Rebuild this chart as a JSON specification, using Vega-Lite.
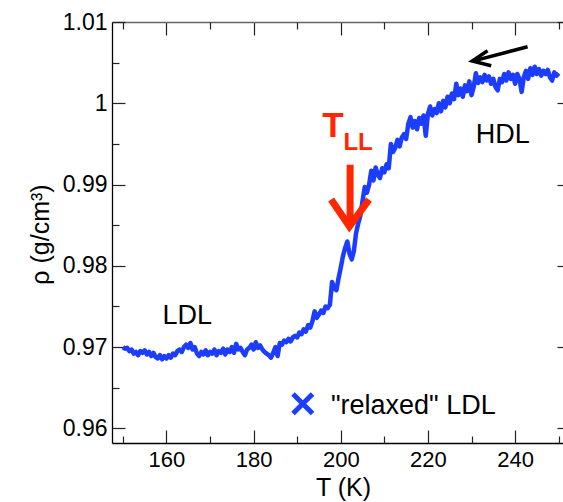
{
  "$schema": "https://vega.github.io/schema/vega-lite/v6.json",
  "width": 458,
  "height": 421,
  "autosize": "none",
  "padding": {"left": 112, "top": 22, "right": 0, "bottom": 59},
  "background": "white",
  "config": {"view": {"stroke": null}, "axis": {"grid": false, "labelFont": "Liberation Sans", "titleFont": "Liberation Sans", "labelColor": "#000", "titleColor": "#000", "titleFontWeight": "normal"}},
  "resolve": {"axis": {"x": "independent", "y": "independent"}},
  "layer": [
    {
      "data": {"values": [
        {"T":150.0,"rho":0.9700},{"T":150.5,"rho":0.9698},{"T":151.0,"rho":0.9699},{"T":151.5,"rho":0.9695},{"T":152.0,"rho":0.9697},{"T":152.5,"rho":0.9692},{"T":153.0,"rho":0.9694},{"T":153.5,"rho":0.9690},{"T":154.0,"rho":0.9695},{"T":154.5,"rho":0.9693},
        {"T":155.0,"rho":0.9696},{"T":155.5,"rho":0.9691},{"T":156.0,"rho":0.9694},{"T":156.5,"rho":0.9689},{"T":157.0,"rho":0.9693},{"T":157.5,"rho":0.9688},{"T":158.0,"rho":0.9686},{"T":158.5,"rho":0.9690},{"T":159.0,"rho":0.9685},{"T":159.5,"rho":0.9689},
        {"T":160.0,"rho":0.9686},{"T":160.5,"rho":0.9690},{"T":161.0,"rho":0.9687},{"T":161.5,"rho":0.9692},{"T":162.0,"rho":0.9690},{"T":162.5,"rho":0.9695},{"T":163.0,"rho":0.9697},{"T":163.5,"rho":0.9694},{"T":164.0,"rho":0.9700},{"T":164.5,"rho":0.9703},
        {"T":165.0,"rho":0.9699},{"T":165.5,"rho":0.9705},{"T":166.0,"rho":0.9697},{"T":166.5,"rho":0.9700},{"T":167.0,"rho":0.9692},{"T":167.5,"rho":0.9689},{"T":168.0,"rho":0.9694},{"T":168.5,"rho":0.9691},{"T":169.0,"rho":0.9696},{"T":169.5,"rho":0.9690},
        {"T":170.0,"rho":0.9694},{"T":170.5,"rho":0.9692},{"T":171.0,"rho":0.9697},{"T":171.5,"rho":0.9690},{"T":172.0,"rho":0.9695},{"T":172.5,"rho":0.9693},{"T":173.0,"rho":0.9698},{"T":173.5,"rho":0.9691},{"T":174.0,"rho":0.9697},{"T":174.5,"rho":0.9694},
        {"T":175.0,"rho":0.9700},{"T":175.5,"rho":0.9693},{"T":176.0,"rho":0.9704},{"T":176.5,"rho":0.9697},{"T":177.0,"rho":0.9699},{"T":177.5,"rho":0.9694},{"T":178.0,"rho":0.9690},{"T":178.5,"rho":0.9697},{"T":179.0,"rho":0.9699},{"T":179.5,"rho":0.9703},
        {"T":180.0,"rho":0.9697},{"T":180.5,"rho":0.9706},{"T":181.0,"rho":0.9699},{"T":181.5,"rho":0.9702},{"T":182.0,"rho":0.9697},{"T":182.5,"rho":0.9694},{"T":183.0,"rho":0.9692},{"T":183.5,"rho":0.9690},{"T":184.0,"rho":0.9687},{"T":184.5,"rho":0.9693},
        {"T":185.0,"rho":0.9700},{"T":185.5,"rho":0.9689},{"T":186.0,"rho":0.9705},{"T":186.5,"rho":0.9703},{"T":187.0,"rho":0.9708},{"T":187.5,"rho":0.9706},{"T":188.0,"rho":0.9710},{"T":188.5,"rho":0.9707},{"T":189.0,"rho":0.9712},{"T":189.5,"rho":0.9714},
        {"T":190.0,"rho":0.9712},{"T":190.5,"rho":0.9718},{"T":191.0,"rho":0.9716},{"T":191.5,"rho":0.9722},{"T":192.0,"rho":0.9719},{"T":192.5,"rho":0.9727},{"T":193.0,"rho":0.9724},{"T":193.5,"rho":0.9732},{"T":194.0,"rho":0.9744},{"T":194.5,"rho":0.9736},
        {"T":195.0,"rho":0.9740},{"T":195.5,"rho":0.9745},{"T":196.0,"rho":0.9742},{"T":196.5,"rho":0.9750},{"T":197.0,"rho":0.9748},{"T":197.5,"rho":0.9752},{"T":198.0,"rho":0.9780},{"T":198.5,"rho":0.9772},{"T":199.0,"rho":0.9770},{"T":199.5,"rho":0.9785},
        {"T":200.0,"rho":0.9798},{"T":200.5,"rho":0.9812},{"T":201.0,"rho":0.9822},{"T":201.5,"rho":0.9830},{"T":202.0,"rho":0.9815},{"T":202.5,"rho":0.9808},{"T":203.0,"rho":0.9818},{"T":203.5,"rho":0.9840},{"T":204.0,"rho":0.9852},{"T":204.5,"rho":0.9862},
        {"T":205.0,"rho":0.9880},{"T":205.5,"rho":0.9897},{"T":206.0,"rho":0.9890},{"T":206.5,"rho":0.9900},{"T":207.0,"rho":0.9917},{"T":207.5,"rho":0.9905},{"T":208.0,"rho":0.9921},{"T":208.5,"rho":0.9912},{"T":209.0,"rho":0.9908},{"T":209.5,"rho":0.9920},
        {"T":210.0,"rho":0.9915},{"T":210.5,"rho":0.9925},{"T":211.0,"rho":0.9920},{"T":211.5,"rho":0.9950},{"T":212.0,"rho":0.9940},{"T":212.5,"rho":0.9945},{"T":213.0,"rho":0.9955},{"T":213.5,"rho":0.9947},{"T":214.0,"rho":0.9958},{"T":214.5,"rho":0.9962},
        {"T":215.0,"rho":0.9956},{"T":215.5,"rho":0.9975},{"T":216.0,"rho":0.9983},{"T":216.5,"rho":0.9970},{"T":217.0,"rho":0.9978},{"T":217.5,"rho":0.9968},{"T":218.0,"rho":0.9982},{"T":218.5,"rho":0.9975},{"T":219.0,"rho":0.9985},{"T":219.5,"rho":0.9960},
        {"T":220.0,"rho":0.9987},{"T":220.5,"rho":0.9996},{"T":221.0,"rho":0.9985},{"T":221.5,"rho":0.9993},{"T":222.0,"rho":0.9988},{"T":222.5,"rho":1.0000},{"T":223.0,"rho":0.9990},{"T":223.5,"rho":1.0003},{"T":224.0,"rho":0.9995},{"T":224.5,"rho":1.0008},
        {"T":225.0,"rho":1.0000},{"T":225.5,"rho":1.0012},{"T":226.0,"rho":1.0005},{"T":226.5,"rho":1.0024},{"T":227.0,"rho":1.0010},{"T":227.5,"rho":1.0018},{"T":228.0,"rho":1.0008},{"T":228.5,"rho":1.0022},{"T":229.0,"rho":1.0015},{"T":229.5,"rho":1.0027},
        {"T":230.0,"rho":1.0010},{"T":230.5,"rho":1.0020},{"T":231.0,"rho":1.0037},{"T":231.5,"rho":1.0025},{"T":232.0,"rho":1.0032},{"T":232.5,"rho":1.0026},{"T":233.0,"rho":1.0035},{"T":233.5,"rho":1.0028},{"T":234.0,"rho":1.0033},{"T":234.5,"rho":1.0024},
        {"T":235.0,"rho":1.0030},{"T":235.5,"rho":1.0020},{"T":236.0,"rho":1.0016},{"T":236.5,"rho":1.0030},{"T":237.0,"rho":1.0026},{"T":237.5,"rho":1.0036},{"T":238.0,"rho":1.0028},{"T":238.5,"rho":1.0038},{"T":239.0,"rho":1.0030},{"T":239.5,"rho":1.0035},
        {"T":240.0,"rho":1.0024},{"T":240.5,"rho":1.0036},{"T":241.0,"rho":1.0030},{"T":241.5,"rho":1.0014},{"T":242.0,"rho":1.0032},{"T":242.5,"rho":1.0040},{"T":243.0,"rho":1.0030},{"T":243.5,"rho":1.0043},{"T":244.0,"rho":1.0035},{"T":244.5,"rho":1.0045},
        {"T":245.0,"rho":1.0036},{"T":245.5,"rho":1.0042},{"T":246.0,"rho":1.0034},{"T":246.5,"rho":1.0040},{"T":247.0,"rho":1.0036},{"T":247.5,"rho":1.0041},{"T":248.0,"rho":1.0032},{"T":248.5,"rho":1.0028},{"T":249.0,"rho":1.0038},{"T":249.5,"rho":1.0034},
        {"T":250.0,"rho":1.0037}
      ]},
      "mark": {"type": "line", "color": "#1c3cff", "strokeWidth": 4.5, "strokeJoin": "round", "clip": true},
      "encoding": {
        "x": {"field": "T", "type": "quantitative", "scale": {"domain": [147.5, 252.6], "zero": false, "nice": false},
              "axis": {"orient": "bottom", "values": [160, 180, 200, 220, 240], "ticks": false, "labelFontSize": 22, "labelPadding": 6,
                       "domainColor": "#000", "domainWidth": 1.3, "title": "T (K)", "titleFontSize": 25, "titleX": 231, "titleY": 52, "titleBaseline": "alphabetic", "titleAlign": "center"}},
        "y": {"field": "rho", "type": "quantitative", "scale": {"domain": [0.9582, 1.01], "zero": false, "nice": false},
              "axis": {"orient": "left", "values": [0.96, 0.97, 0.98, 0.99, 1, 1.01], "labelExpr": "datum.value == 1 ? '1' : format(datum.value, '.2f')", "ticks": false, "labelFontSize": 23, "labelPadding": 5,
                       "domainColor": "#000", "domainWidth": 1.3, "title": "ρ (g/cm³)", "titleFontSize": 25, "titleAngle": -90, "titleX": -72, "titleY": 212, "titleBaseline": "middle", "titleAlign": "center"}}
      }
    },
    {
      "data": {"values": [{"T": 202.14, "rho": 0.99244, "k": 1}, {"T": 202.14, "rho": 0.98507, "k": 2}]},
      "mark": {"type": "line", "color": "#ff2600", "strokeWidth": 7, "strokeCap": "butt"},
      "encoding": {
        "x": {"field": "T", "type": "quantitative", "scale": {"domain": [147.5, 252.6], "zero": false, "nice": false},
              "axis": {"orient": "bottom", "values": [160, 180, 200, 220, 240], "labels": false, "domain": false, "tickSize": -13, "tickColor": "#222", "tickWidth": 1.2, "title": null}},
        "y": {"field": "rho", "type": "quantitative", "scale": {"domain": [0.9582, 1.01], "zero": false, "nice": false},
              "axis": {"orient": "left", "values": [0.96, 0.97, 0.98, 0.99, 1, 1.01], "labels": false, "domain": false, "tickSize": -13, "tickColor": "#222", "tickWidth": 1.2, "title": null}},
        "order": {"field": "k", "type": "quantitative"}
      }
    },
    {
      "data": {"values": [{"T": 197.78, "rho": 0.98815, "k": 1}, {"T": 201.98, "rho": 0.98486, "k": 2}, {"T": 206.48, "rho": 0.98815, "k": 3}]},
      "mark": {"type": "line", "color": "#ff2600", "strokeWidth": 7, "strokeCap": "butt", "strokeJoin": "miter"},
      "encoding": {
        "x": {"field": "T", "type": "quantitative", "scale": {"domain": [147.5, 252.6], "zero": false, "nice": false},
              "axis": {"orient": "bottom", "values": [150, 170, 190, 210, 230, 250], "labels": false, "domain": false, "tickSize": -7, "tickColor": "#222", "tickWidth": 1.2, "title": null}},
        "y": {"field": "rho", "type": "quantitative", "scale": {"domain": [0.9582, 1.01], "zero": false, "nice": false},
              "axis": {"orient": "left", "values": [0.965, 0.975, 0.985, 0.995, 1.005], "labels": false, "domain": false, "tickSize": -7, "tickColor": "#222", "tickWidth": 1.2, "title": null}},
        "order": {"field": "k", "type": "quantitative"}
      }
    },
    {
      "data": {"values": [{"T": 242.86, "rho": 1.00695, "k": 1}, {"T": 230.3, "rho": 1.00518, "k": 2}]},
      "mark": {"type": "line", "color": "#000", "strokeWidth": 3.5, "strokeCap": "butt"},
      "encoding": {
        "x": {"field": "T", "type": "quantitative", "scale": {"domain": [147.5, 252.6], "zero": false, "nice": false},
              "axis": {"orient": "top", "values": [160, 180, 200, 220, 240], "labels": false, "domainColor": "#666", "domainWidth": 1.3, "tickSize": -13, "tickColor": "#222", "tickWidth": 1.2, "title": null}},
        "y": {"field": "rho", "type": "quantitative", "scale": {"domain": [0.9582, 1.01], "zero": false, "nice": false},
              "axis": {"orient": "right", "values": [0.96, 0.97, 0.98, 0.99, 1, 1.01], "labels": false, "domainColor": "#666", "tickSize": -13, "tickColor": "#222", "tickWidth": 1.2, "title": null}},
        "order": {"field": "k", "type": "quantitative"}
      }
    },
    {
      "data": {"values": [{"T": 233.68, "rho": 1.00646, "k": 1}, {"T": 230.16, "rho": 1.0052, "k": 2}, {"T": 234.52, "rho": 1.00462, "k": 3}]},
      "mark": {"type": "line", "color": "#000", "strokeWidth": 3.5, "strokeCap": "butt", "strokeJoin": "miter"},
      "encoding": {
        "x": {"field": "T", "type": "quantitative", "scale": {"domain": [147.5, 252.6], "zero": false, "nice": false},
              "axis": {"orient": "top", "values": [150, 170, 190, 210, 230, 250], "labels": false, "domain": false, "tickSize": -7, "tickColor": "#222", "tickWidth": 1.2, "title": null}},
        "y": {"field": "rho", "type": "quantitative", "scale": {"domain": [0.9582, 1.01], "zero": false, "nice": false},
              "axis": {"orient": "right", "values": [0.965, 0.975, 0.985, 0.995, 1.005], "labels": false, "domain": false, "tickSize": -7, "tickColor": "#222", "tickWidth": 1.2, "title": null}},
        "order": {"field": "k", "type": "quantitative"}
      }
    },
    {
      "data": {"values": [{"T": 191.28, "rho": 0.96303}]},
      "mark": {"type": "point", "shape": "M-1,-1L1,1M-1,1L1,-1", "size": 380, "filled": false, "strokeWidth": 5, "color": "#1c3cff", "opacity": 1},
      "encoding": {
        "x": {"field": "T", "type": "quantitative", "axis": null},
        "y": {"field": "rho", "type": "quantitative", "axis": null}
      }
    },
    {
      "data": {"values": [
        {"T": 197.75, "rho": 0.96172, "label": "\"relaxed\" LDL"}
      ]},
      "mark": {"type": "text", "font": "Liberation Sans", "fontSize": 27, "align": "left", "baseline": "alphabetic", "color": "#000"},
      "encoding": {
        "x": {"field": "T", "type": "quantitative", "axis": null},
        "y": {"field": "rho", "type": "quantitative", "axis": null},
        "text": {"field": "label"}
      }
    },
    {
      "data": {"values": [
        {"T": 164.77, "rho": 0.97279, "label": "LDL"},
        {"T": 237.19, "rho": 0.99509, "label": "HDL"}
      ]},
      "mark": {"type": "text", "font": "Liberation Sans", "fontSize": 27, "align": "center", "baseline": "alphabetic", "color": "#000"},
      "encoding": {
        "x": {"field": "T", "type": "quantitative", "axis": null},
        "y": {"field": "rho", "type": "quantitative", "axis": null},
        "text": {"field": "label"}
      }
    },
    {
      "data": {"values": [{"T": 198.19, "rho": 0.99589, "label": "T"}]},
      "mark": {"type": "text", "font": "Liberation Sans", "fontSize": 35, "fontWeight": "bold", "align": "center", "baseline": "alphabetic", "color": "#ff2600"},
      "encoding": {
        "x": {"field": "T", "type": "quantitative", "axis": null},
        "y": {"field": "rho", "type": "quantitative", "axis": null},
        "text": {"field": "label"}
      }
    },
    {
      "data": {"values": [{"T": 200.6, "rho": 0.99429, "label": "LL"}]},
      "mark": {"type": "text", "font": "Liberation Sans", "fontSize": 24, "fontWeight": "bold", "align": "left", "baseline": "alphabetic", "color": "#ff2600"},
      "encoding": {
        "x": {"field": "T", "type": "quantitative", "axis": null},
        "y": {"field": "rho", "type": "quantitative", "axis": null},
        "text": {"field": "label"}
      }
    }
  ]
}
